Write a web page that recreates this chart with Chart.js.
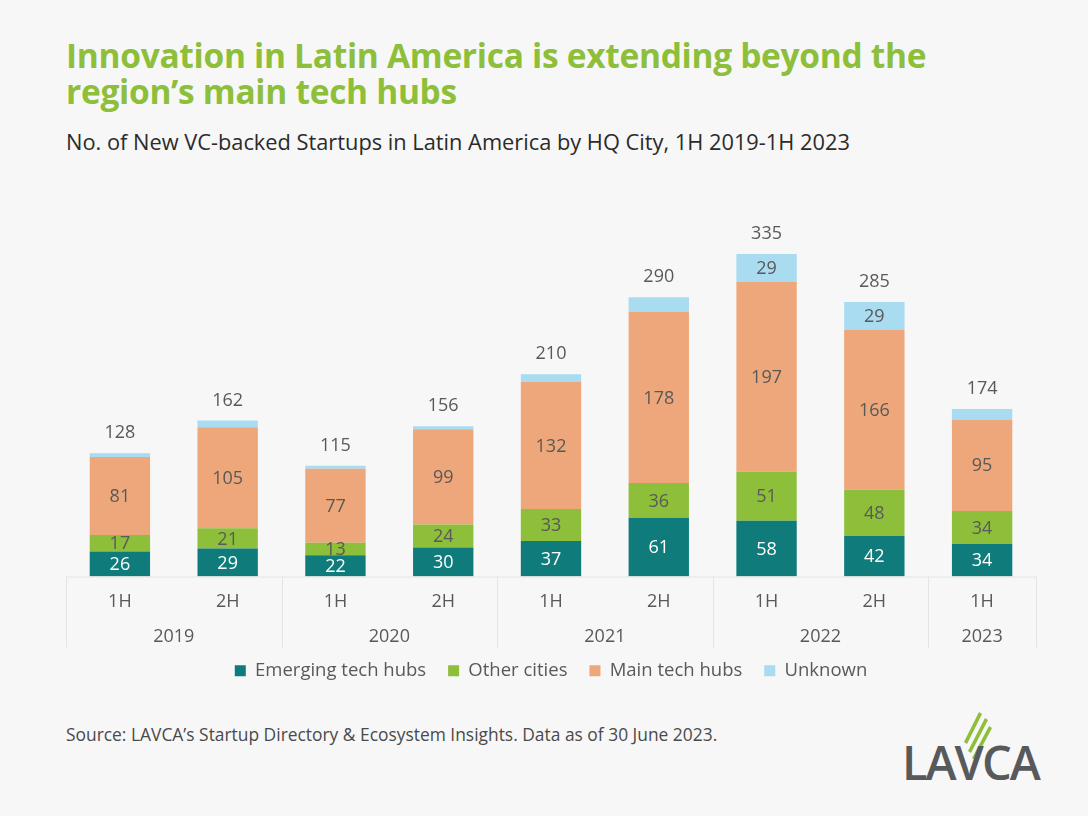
<!DOCTYPE html>
<html>
<head>
<meta charset="utf-8">
<script src="https://cdn.jsdelivr.net/npm/chart.js@4.4.0/dist/chart.umd.min.js"></script>
<style>
  body { margin: 0; background: #f7f7f7; width: 1088px; height: 816px; overflow: hidden; position: relative; font-family: 'Open Sans', sans-serif; }
  #title { position: absolute; left: 66px; top: 37px; color: #8dbf3a; font: 700 33.5px/36px 'Open Sans', sans-serif; letter-spacing: -0.3px; }
  #subtitle { position: absolute; left: 66px; top: 128px; color: #2b2b2b; font: 400 21.8px/28px 'Open Sans', sans-serif; }
  #source { position: absolute; left: 66px; top: 722px; color: #4a4a4a; font: 400 17.4px/24px 'Open Sans', sans-serif; }
  #wrap { position: absolute; left: 0; top: 201px; width: 1088px; height: 489px; }
  #logo { position: absolute; left: 900px; top: 708px; }
</style>
</head>
<body>
<div id="title">Innovation in Latin America is extending beyond the<br>region’s main tech hubs</div>
<div id="subtitle">No. of New VC-backed Startups in Latin America by HQ City, 1H 2019-1H 2023</div>
<div id="wrap"><canvas id="startupChart"></canvas></div>
<div id="source">Source: LAVCA’s Startup Directory &amp; Ecosystem Insights. Data as of 30 June 2023.</div>
<svg id="logo" width="150" height="76" viewBox="0 0 150 76">
  <g fill="#8dbf3a">
    <polygon points="79,4 82,6 67,36 64,34"/>
    <polygon points="85,10 88,12 71,45 68,43"/>
    <polygon points="89,18 92,20 75,52 72,50"/>
  </g>
  <text x="2" y="72" fill="#58595b" font-family="'Open Sans', sans-serif" font-weight="600" font-size="47" letter-spacing="-2">LAVCA</text>
</svg>
<script>
// Datos
const halves = ['1H', '2H', '1H', '2H', '1H', '2H', '1H', '2H', '1H'];
const years = ['2019', '2019', '2020', '2020', '2021', '2021', '2022', '2022', '2023'];
const emerging = [26, 29, 22, 30, 37, 61, 58, 42, 34];
const otherCities = [17, 21, 13, 24, 33, 36, 51, 48, 34];
const mainHubs = [81, 105, 77, 99, 132, 178, 197, 166, 95];
const unknown = [4, 7, 3, 3, 8, 15, 29, 29, 11];
const totals = [128, 162, 115, 156, 210, 290, 335, 285, 174];

const TXT = '#595959';
const FONT = "'Open Sans', sans-serif";

// címkék a szegmensekben + összeg a tetején
const segLabels = {
  id: 'segLabels',
  afterDatasetsDraw(chart) {
    const ctx = chart.ctx;
    ctx.save();
    ctx.font = '18px ' + FONT;
    ctx.textAlign = 'center';
    ctx.textBaseline = 'middle';
    chart.data.datasets.forEach((ds, di) => {
      chart.getDatasetMeta(di).data.forEach((bar, i) => {
        const v = ds.data[i];
        if (di === 3 && v < 20) return;
        ctx.fillStyle = di === 0 ? '#ffffff' : TXT;
        ctx.fillText(v, bar.x, (bar.y + bar.base) / 2 + 1);
      });
    });
    ctx.fillStyle = TXT;
    chart.getDatasetMeta(3).data.forEach((bar, i) => {
      ctx.fillText(totals[i], bar.x, bar.y - 20);
    });
    ctx.restore();
  }
};

// második szint: évek + elválasztó vonalak
const yearAxis = {
  id: 'yearAxis',
  afterDraw(chart) {
    const ctx = chart.ctx, x = chart.scales.x, area = chart.chartArea;
    const w = x.width / halves.length;
    const bottom = area.bottom + 71;
    ctx.save();
    ctx.strokeStyle = '#e4e4e4';
    ctx.lineWidth = 1;
    ctx.beginPath();
    ctx.moveTo(area.left, area.bottom + 0.5);
    ctx.lineTo(area.right, area.bottom + 0.5);
    ctx.stroke();
    ctx.font = '18px ' + FONT;
    ctx.fillStyle = TXT;
    ctx.textAlign = 'center';
    ctx.textBaseline = 'middle';
    let start = 0;
    for (let i = 1; i <= years.length; i++) {
      if (i === years.length || years[i] !== years[start]) {
        const left = x.getPixelForValue(start) - w / 2;
        const right = x.getPixelForValue(i - 1) + w / 2;
        [left, right].forEach(px => {
          ctx.beginPath();
          ctx.moveTo(Math.round(px) + 0.5, area.bottom);
          ctx.lineTo(Math.round(px) + 0.5, bottom);
          ctx.stroke();
        });
        ctx.fillText(years[start], (left + right) / 2, area.bottom + 60);
        start = i;
      }
    }
    ctx.restore();
  }
};

const ds = (label, data, color) => ({ label, data, backgroundColor: color, borderWidth: 0 });

new Chart(document.getElementById('startupChart').getContext('2d'), {
  type: 'bar',
  data: {
    labels: halves,
    datasets: [
      ds('Emerging tech hubs', emerging, '#0f7b7a'),
      ds('Other cities', otherCities, '#8dbf3a'),
      ds('Main tech hubs', mainHubs, '#eda77a'),
      ds('Unknown', unknown, '#a9dbf1')
    ]
  },
  options: {
    responsive: true,
    maintainAspectRatio: false,
    animation: false,
    layout: { padding: { left: 66, right: 52, top: 0, bottom: 0 } },
    datasets: { bar: { categoryPercentage: 1, barPercentage: 0.56 } },
    plugins: {
      legend: {
        position: 'bottom',
        labels: { boxWidth: 11, boxHeight: 11, padding: 22, color: TXT, font: { family: FONT, size: 18.5 } }
      },
      tooltip: { enabled: false }
    },
    scales: {
      x: {
        stacked: true,
        border: { display: false },
        grid: { display: false, drawTicks: false },
        ticks: { color: TXT, font: { family: FONT, size: 18 }, padding: 15 },
        afterFit: (s) => { s.height = 63; }
      },
      y: { stacked: true, display: false, min: 0, max: 390 }
    }
  },
  plugins: [segLabels, yearAxis]
});
</script>
</body>
</html>
